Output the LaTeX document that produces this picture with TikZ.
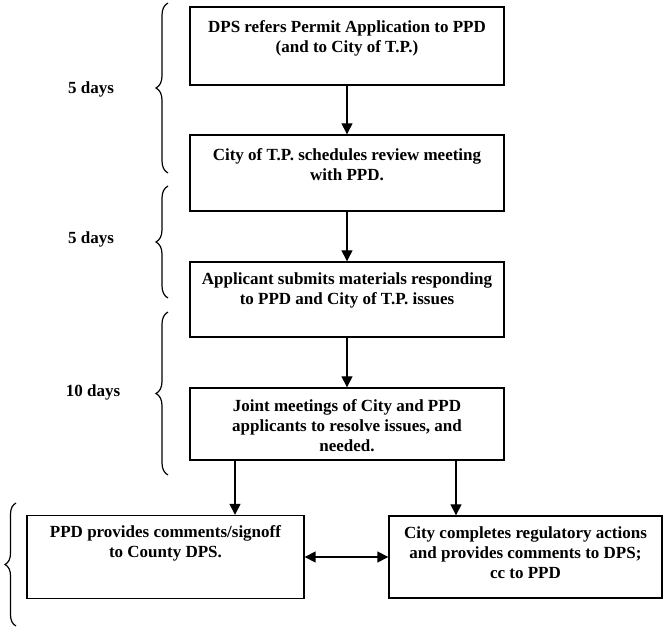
\documentclass[tikz,border=0pt]{standalone}
\usepackage{fontspec}
\setmainfont{Liberation Serif}
\usetikzlibrary{arrows.meta,decorations.pathreplacing}
\begin{document}
\begin{tikzpicture}[x=1pt,y=-1pt,
 box/.style={draw,line width=1.4pt,inner sep=0pt},
 txt/.style={anchor=north,align=center,inner sep=0pt,font=\fontsize{17}{20}\selectfont\bfseries},
 lbl/.style={inner sep=0pt,font=\fontsize{17}{20}\selectfont\bfseries},
 arr/.style={line width=1.4pt,-{Triangle[length=11pt,width=11pt]}},
 darr/.style={line width=1.5pt,{Triangle[length=11pt,width=11pt]}-{Triangle[length=11pt,width=11pt]}},
 brc/.style={decorate,decoration={brace,amplitude=12pt},line width=1.2pt}]
\useasboundingbox (0,0) rectangle (665,628);
% boxes
\node[box,minimum width=314pt,minimum height=78pt] (b1) at (347,46) {};
\node[box,minimum width=314pt,minimum height=76pt] (b2) at (347,173) {};
\node[box,minimum width=314pt,minimum height=75pt] (b3) at (347,299.5) {};
\node[box,minimum width=314pt,minimum height=72pt] (b4) at (347,424) {};
\node[box,minimum width=277pt,minimum height=83pt] (b5) at (165.5,557) {};
\node[box,minimum width=273pt,minimum height=82pt] (b6) at (525.5,557) {};
% texts
\node[txt] (t1) at (347,18) {\strut DPS refers Permit Application to PPD\\(and to City of T.P.)};
\node[txt] (t2) at (347,146) {\strut City of T.P. schedules review meeting\\with PPD.};
\node[txt] (t3) at (347,270) {\strut Applicant submits materials responding\\to PPD and City of T.P. issues};
\node[txt] (t4) at (347,397) {\strut Joint meetings of City and PPD\\applicants to resolve issues, and\\needed.};
\node[txt] (t5) at (165.5,523) {\strut PPD provides comments/signoff\\to County DPS.};
\node[txt] (t6) at (525.5,524) {\strut City completes regulatory actions\\and provides comments to DPS;\\cc to PPD};
% day labels
\node[lbl] (d1) at (91,89) {5 days};
\node[lbl] (d2) at (91,239) {5 days};
\node[lbl] (d3) at (93,392) {10 days};
% braces
\draw[brc] (168,173) -- (168,3);
\draw[brc] (168,298) -- (168,186);
\draw[brc] (168,475) -- (168,312);
\draw[brc,decoration={brace,amplitude=11pt}] (16,626) -- (16,503);
% arrows
\draw[arr] (b1) -- (b2);
\draw[arr] (b2) -- (b3);
\draw[arr] (b3) -- (b4);
\coordinate (c5) at (235,0);
\coordinate (c6) at (456,0);
\draw[arr] (b4.south -| c5) -- (b5.north -| c5);
\draw[arr] (b4.south -| c6) -- (b6.north -| c6);
\draw[darr] (b5.east) -- (b6.west);
\end{tikzpicture}
\end{document}
